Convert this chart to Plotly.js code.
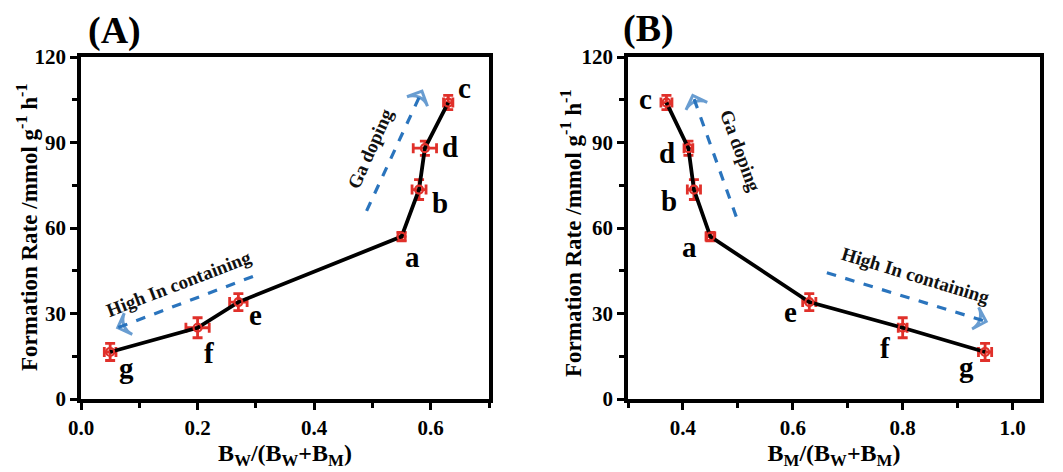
<!DOCTYPE html>
<html>
<head>
<meta charset="utf-8">
<script src="https://cdn.plot.ly/plotly-3.0.1.min.js"></script>
<style>
  html, body { margin: 0; padding: 0; background: #fff; }
  #plot { width: 1063px; height: 472px; }
</style>
</head>
<body>
<div id="plot"></div>
<script>
// samples in line order
var sampleLabels = ["g", "f", "e", "a", "b", "d", "c"];
var rate = [16.5, 25, 34, 57, 73.5, 88, 104];
var rateErr = [3, 3.5, 3, 1.5, 3.5, 2.5, 2.5];

// panel A: Bw/(Bw+BM)
var fracW = [0.05, 0.2, 0.27, 0.55, 0.58, 0.59, 0.63];
var fracWErr = [0.01, 0.02, 0.015, 0.006, 0.012, 0.02, 0.008];

// panel B: BM/(Bw+BM)
var fracM = [0.95, 0.8, 0.63, 0.45, 0.42, 0.41, 0.37];
var fracMErr = [0.012, 0.008, 0.012, 0.008, 0.012, 0.008, 0.01];

// label offsets (px) from each point
var labShiftA = [[16, -16], [11, -25], [17, -13], [11, -20], [21, -13], [25, 1], [16, 15]];
var labShiftB = [[-19, -15], [-18, -20], [-19, -10], [-21, -10], [-25, -11], [-21, -5], [-21, 4]];

var yTitle = "Formation Rate /mmol g<sup>-1</sup> h<sup>-1</sup>";

var red = "#e0302a";
var blue = "#2a74bd";
var serif = "Liberation Serif, Times New Roman, serif";

function series(x, ex, xa, ya) {
  return {
    x: x, y: rate, xaxis: xa, yaxis: ya,
    type: "scatter", mode: "lines+markers",
    line: {color: "#000", width: 3.8},
    marker: {symbol: "circle-open", size: 8, color: red, line: {width: 2.2, color: red}},
    error_x: {type: "data", array: ex, color: red, thickness: 2.8, width: 5},
    error_y: {type: "data", array: rateErr, color: red, thickness: 2.8, width: 5},
    hoverinfo: "x+y", showlegend: false
  };
}

function arrow(x, y, xa, ya) {
  return {
    x: x, y: y, xaxis: xa, yaxis: ya,
    type: "scatter", mode: "lines+markers",
    line: {color: blue, width: 3.2, dash: "dash"},
    marker: {symbol: "arrow-wide-open", size: [0, 16], color: blue, angleref: "previous",
             line: {width: 3, color: blue}},
    hoverinfo: "skip", showlegend: false
  };
}

var data = [
  series(fracW, fracWErr, "x", "y"),
  series(fracM, fracMErr, "x2", "y2"),
  arrow([0.49, 0.585], [66, 108], "x", "y"),
  arrow([0.295, 0.063], [43, 25], "x", "y"),
  arrow([0.497, 0.418], [64, 106.5], "x2", "y2"),
  arrow([0.662, 0.952], [44.3, 27.2], "x2", "y2")
];

var ann = [];
function addLabels(xs, shifts, xr, yr) {
  for (var i = 0; i < xs.length; i++) {
    ann.push({
      x: xs[i], y: rate[i], xref: xr, yref: yr, text: sampleLabels[i],
      showarrow: false, xshift: shifts[i][0], yshift: shifts[i][1],
      font: {family: serif, size: 29, color: "#000", weight: "bold"}
    });
  }
}
addLabels(fracW, labShiftA, "x", "y");
addLabels(fracM, labShiftB, "x2", "y2");

function note(text, x, y, ang, xr, yr) {
  ann.push({x: x, y: y, xref: xr, yref: yr, text: text, showarrow: false, textangle: ang,
            font: {family: serif, size: 19, color: "#111", weight: "bold"}});
}
note("Ga doping", 0.496, 88, -66, "x", "y");
note("High In containing", 0.168, 40.5, -21, "x", "y");
note("Ga doping", 0.506, 87, 70, "x2", "y2");
note("High In containing", 0.824, 43.5, 17, "x2", "y2");

// text placed at pixel spots on the page
function pageText(text, px, py, size, ang) {
  ann.push({x: px / 1063, y: 1 - py / 472, xref: "paper", yref: "paper",
            xanchor: "center", yanchor: "middle", text: text, showarrow: false,
            textangle: ang, font: {family: serif, size: size, color: "#000", weight: "bold"}});
}
pageText("(A)", 114, 30, 38, 0);
pageText("(B)", 648, 29, 38, 0);
pageText(yTitle, 27, 228, 23, -90);
pageText(yTitle, 571, 234, 23, -90);

var tickFont = {family: serif, size: 21, color: "#000", weight: "bold"};
var titleFont = {family: serif, size: 24, color: "#000", weight: "bold"};

function xAxis(dom, rng, anchor, title) {
  return {
    domain: dom, range: rng, anchor: anchor,
    dtick: 0.2, tick0: 0, tickformat: ".1f",
    showline: true, linecolor: "#000", linewidth: 3.8, mirror: true,
    ticks: "outside", ticklen: 7, tickwidth: 3, tickcolor: "#000",
    minor: {dtick: 0.1, ticks: "outside", ticklen: 5, tickwidth: 3, tickcolor: "#000"},
    showgrid: false, zeroline: false, tickfont: tickFont,
    title: {text: title, font: titleFont, standoff: 0}
  };
}
function yAxis(dom, anchor) {
  return {
    domain: dom, range: [0, 120], anchor: anchor,
    dtick: 30, tick0: 0,
    showline: true, linecolor: "#000", linewidth: 3.8, mirror: true,
    ticks: "outside", ticklen: 7, tickwidth: 3, tickcolor: "#000",
    minor: {dtick: 15, ticks: "outside", ticklen: 5, tickwidth: 3, tickcolor: "#000"},
    showgrid: false, zeroline: false, tickfont: tickFont
  };
}

var yDom = [1 - 399 / 472, 1 - 57 / 472];
var layout = {
  width: 1063, height: 472,
  margin: {l: 0, r: 0, t: 0, b: 0},
  paper_bgcolor: "#fff", plot_bgcolor: "#fff",
  xaxis: xAxis([81 / 1063, 489 / 1063], [0, 0.7], "y", "B<sub>W</sub>/(B<sub>W</sub>+B<sub>M</sub>)"),
  yaxis: yAxis(yDom, "x"),
  xaxis2: xAxis([628 / 1063, 1040 / 1063], [0.3, 1.05], "y2", "B<sub>M</sub>/(B<sub>W</sub>+B<sub>M</sub>)"),
  yaxis2: yAxis(yDom, "x2"),
  annotations: ann
};

Plotly.newPlot("plot", data, layout, {displayModeBar: false, staticPlot: true});
</script>
</body>
</html>
